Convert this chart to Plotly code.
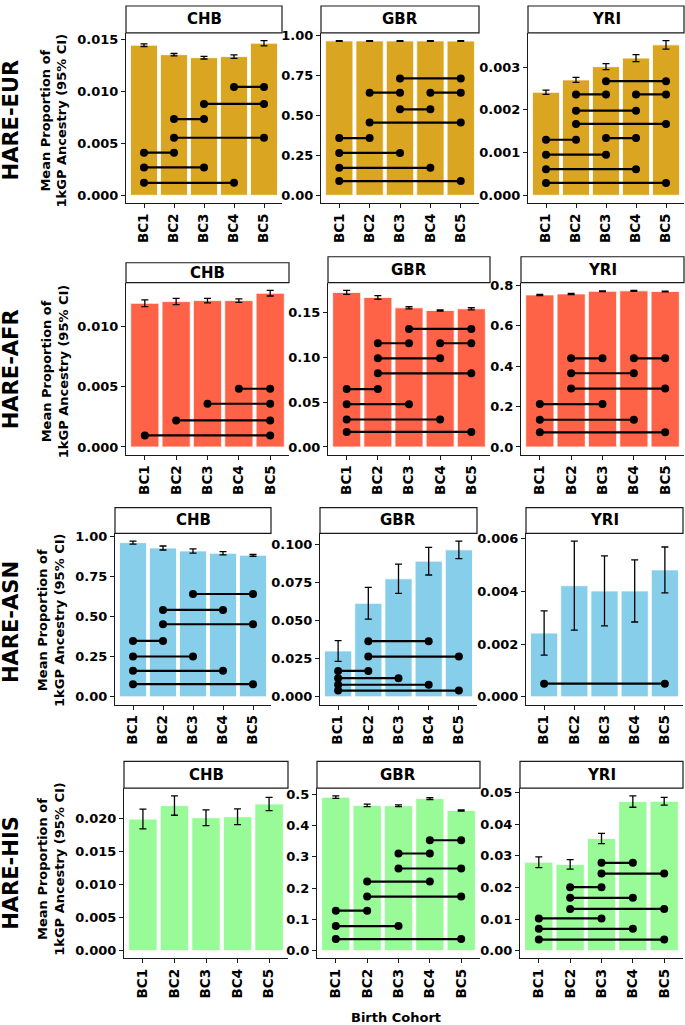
import plotly.graph_objects as go

# ---------------- data ----------------
cohorts = ["BC1", "BC2", "BC3", "BC4", "BC5"]
populations = ["CHB", "GBR", "YRI"]
groups = ["HARE-EUR", "HARE-AFR", "HARE-ASN", "HARE-HIS"]
group_colors = ["#DAA520", "#FF6347", "#87CEEB", "#98FB98"]

# HARE-EUR
eur_chb_mean = [0.01443, 0.01352, 0.01323, 0.01333, 0.01462]
eur_chb_ci = [0.00013, 0.00011, 0.00013, 0.00016, 0.00025]
eur_chb_sig = [("BC4", "BC5", 0.01042), ("BC3", "BC5", 0.00878), ("BC2", "BC3", 0.00733),
               ("BC2", "BC5", 0.00553), ("BC1", "BC2", 0.0041), ("BC1", "BC3", 0.00268),
               ("BC1", "BC4", 0.0012)]
eur_gbr_mean = [0.966, 0.966, 0.966, 0.966, 0.965]
eur_gbr_ci = [0.002, 0.002, 0.002, 0.002, 0.002]
eur_gbr_sig = [("BC3", "BC5", 0.731), ("BC2", "BC3", 0.642), ("BC4", "BC5", 0.642),
               ("BC3", "BC4", 0.538), ("BC2", "BC5", 0.455), ("BC1", "BC2", 0.358),
               ("BC1", "BC3", 0.265), ("BC1", "BC4", 0.172), ("BC1", "BC5", 0.089)]
eur_yri_mean = [0.00241, 0.0027, 0.00301, 0.00321, 0.00352]
eur_yri_ci = [0.00005, 0.00006, 0.00007, 0.00008, 0.0001]
eur_yri_sig = [("BC3", "BC5", 0.00267), ("BC2", "BC3", 0.00236), ("BC4", "BC5", 0.00236),
               ("BC2", "BC4", 0.00198), ("BC2", "BC5", 0.00167), ("BC3", "BC4", 0.00134),
               ("BC1", "BC2", 0.0013), ("BC1", "BC3", 0.00095), ("BC1", "BC4", 0.00061),
               ("BC1", "BC5", 0.00029)]

# HARE-AFR
afr_chb_mean = [0.0119, 0.01204, 0.01212, 0.01212, 0.01273]
afr_chb_ci = [0.00028, 0.00026, 0.00018, 0.00014, 0.00023]
afr_chb_sig = [("BC4", "BC5", 0.00482), ("BC3", "BC5", 0.00358), ("BC2", "BC5", 0.0022),
               ("BC1", "BC5", 0.00096)]
afr_gbr_mean = [0.1728, 0.1672, 0.1556, 0.1526, 0.1545]
afr_gbr_ci = [0.0022, 0.002, 0.0012, 0.0008, 0.0012]
afr_gbr_sig = [("BC3", "BC5", 0.132), ("BC2", "BC3", 0.116), ("BC4", "BC5", 0.116),
               ("BC2", "BC4", 0.0991), ("BC2", "BC5", 0.0823), ("BC1", "BC2", 0.0647),
               ("BC1", "BC3", 0.0479), ("BC1", "BC4", 0.0307), ("BC1", "BC5", 0.0168)]
afr_yri_mean = [0.752, 0.757, 0.770, 0.772, 0.769]
afr_yri_ci = [0.003, 0.003, 0.002, 0.002, 0.002]
afr_yri_sig = [("BC2", "BC3", 0.4386), ("BC4", "BC5", 0.4386), ("BC2", "BC4", 0.3647),
               ("BC2", "BC5", 0.289), ("BC1", "BC3", 0.212), ("BC1", "BC4", 0.1347),
               ("BC1", "BC5", 0.0723)]

# HARE-ASN
asn_chb_mean = [0.9626, 0.929, 0.9106, 0.896, 0.8836]
asn_chb_ci = [0.009, 0.0125, 0.0135, 0.01, 0.006]
asn_chb_sig = [("BC3", "BC5", 0.642), ("BC2", "BC4", 0.5426), ("BC2", "BC5", 0.453),
               ("BC1", "BC2", 0.349), ("BC1", "BC3", 0.2516), ("BC1", "BC4", 0.162),
               ("BC1", "BC5", 0.079)]
asn_gbr_mean = [0.0301, 0.0614, 0.0775, 0.0891, 0.0965]
asn_gbr_ci = [0.0068, 0.0104, 0.0096, 0.0091, 0.0057]
asn_gbr_sig = [("BC2", "BC4", 0.0365), ("BC2", "BC5", 0.0264), ("BC1", "BC2", 0.017),
               ("BC1", "BC3", 0.0122), ("BC1", "BC4", 0.0079), ("BC1", "BC5", 0.0041)]
asn_yri_mean = [0.00242, 0.00422, 0.00402, 0.00402, 0.00482]
asn_yri_ci = [0.00084, 0.00169, 0.00133, 0.00118, 0.00087]
asn_yri_sig = [("BC1", "BC5", 0.0005)]

# HARE-HIS
his_chb_mean = [0.01985, 0.02189, 0.02005, 0.0202, 0.02213]
his_chb_ci = [0.00149, 0.00146, 0.0012, 0.0012, 0.001]
his_chb_sig = []
his_gbr_mean = [0.4915, 0.465, 0.464, 0.487, 0.449]
his_gbr_ci = [0.004, 0.004, 0.003, 0.003, 0.002]
his_gbr_sig = [("BC4", "BC5", 0.3535), ("BC3", "BC4", 0.311), ("BC3", "BC5", 0.263),
               ("BC2", "BC4", 0.221), ("BC2", "BC5", 0.173), ("BC1", "BC2", 0.128),
               ("BC1", "BC3", 0.0786), ("BC1", "BC5", 0.037)]
his_yri_mean = [0.028, 0.0273, 0.0355, 0.0472, 0.0473]
his_yri_ci = [0.0017, 0.0015, 0.0016, 0.0018, 0.0012]
his_yri_sig = [("BC3", "BC4", 0.0278), ("BC3", "BC5", 0.0244), ("BC2", "BC3", 0.0201),
               ("BC2", "BC4", 0.0167), ("BC2", "BC5", 0.0132), ("BC1", "BC3", 0.0102),
               ("BC1", "BC4", 0.0069), ("BC1", "BC5", 0.0035)]

# y tick step and format per panel (row-major)
tick_steps = [0.005, 0.25, 0.001,
              0.005, 0.05, 0.2,
              0.25, 0.025, 0.002,
              0.005, 0.1, 0.01]
tick_formats = [".3f", ".2f", ".3f",
                ".3f", ".2f", ".1f",
                ".2f", ".3f", ".3f",
                ".3f", ".1f", ".2f"]

panels = [
    (eur_chb_mean, eur_chb_ci, eur_chb_sig), (eur_gbr_mean, eur_gbr_ci, eur_gbr_sig), (eur_yri_mean, eur_yri_ci, eur_yri_sig),
    (afr_chb_mean, afr_chb_ci, afr_chb_sig), (afr_gbr_mean, afr_gbr_ci, afr_gbr_sig), (afr_yri_mean, afr_yri_ci, afr_yri_sig),
    (asn_chb_mean, asn_chb_ci, asn_chb_sig), (asn_gbr_mean, asn_gbr_ci, asn_gbr_sig), (asn_yri_mean, asn_yri_ci, asn_yri_sig),
    (his_chb_mean, his_chb_ci, his_chb_sig), (his_gbr_mean, his_gbr_ci, his_gbr_sig), (his_yri_mean, his_yri_ci, his_yri_sig),
]

# ---------------- layout geometry (pixels) ----------------
W, H = 685, 1025
# per row: (plot top, plot bottom)
row_y = [(28, 199), (279, 452), (531, 703), (787, 958)]
# strip top per panel
strip_top = [[1, 1, 1], [259, 253, 253], [505, 505, 505], [760, 760, 760]]
row_x = [
    [(126, 282), (321, 479), (528, 684)],
    [(126, 289), (328, 490), (521, 684)],
    [(115, 271), (320, 477), (526, 683)],
    [(124, 288), (317, 480), (520, 683)],
]
row_label_y = [116, 366, 620, 872]
ytitle_y = [116, 368, 618, 868]
ytitle_x = [54, 55, 51, 51]

def fx(px):
    return px / W

def fy(py):
    return 1 - py / H

FONT = "DejaVu Sans"
AX_COLOR = "#1a1a1a"

fig = go.Figure()
shapes = []
annotations = []

for r in range(4):
    for c in range(3):
        i = r * 3 + c
        n = i + 1
        xa = "x" if n == 1 else f"x{n}"
        ya = "y" if n == 1 else f"y{n}"
        mean, ci, sig = panels[i]
        color = group_colors[r]

        fig.add_trace(go.Bar(
            x=cohorts, y=mean, width=0.9,
            marker=dict(color=color, line=dict(color="white", width=0.8)),
            error_y=dict(type="data", array=ci, visible=True, color="black",
                         thickness=1.3, width=3.5),
            xaxis=xa, yaxis=ya, hoverinfo="skip",
        ))
        for (a, b, yv) in sig:
            fig.add_trace(go.Scatter(
                x=[a, b], y=[yv, yv], mode="lines+markers",
                line=dict(color="black", width=2.2),
                marker=dict(color="black", size=8),
                xaxis=xa, yaxis=ya, hoverinfo="skip",
            ))

        M = max(m + e for m, e in zip(mean, ci))
        x0, x1 = row_x[r][c]
        yt, yb = row_y[r]
        xkey = "xaxis" if n == 1 else f"xaxis{n}"
        ykey = "yaxis" if n == 1 else f"yaxis{n}"
        fig.layout[xkey] = dict(
            domain=[fx(x0), fx(x1)], anchor=ya, type="category",
            categoryorder="array", categoryarray=cohorts,
            range=[-0.6, 4.6], tickangle=-90, ticks="outside", ticklen=4,
            tickwidth=1.1, tickcolor=AX_COLOR, showline=True, linecolor=AX_COLOR,
            linewidth=1.2, showgrid=False, zeroline=False,
            tickfont=dict(family=FONT, size=13.5, color="black", weight="bold"),
        )
        fig.layout[ykey] = dict(
            domain=[fy(yb), fy(yt)], anchor=xa,
            range=[-0.05 * M, 1.05 * M], tick0=0, dtick=tick_steps[i],
            tickformat=tick_formats[i], ticks="outside", ticklen=4,
            tickwidth=1.1, tickcolor=AX_COLOR, showline=True, linecolor=AX_COLOR,
            linewidth=1.2, showgrid=False, zeroline=False,
            tickfont=dict(family=FONT, size=13, color="black", weight="bold"),
        )
        # strip
        st = strip_top[r][c]
        shapes.append(dict(type="rect", xref="paper", yref="paper",
                           x0=fx(x0), x1=fx(x1), y0=fy(yt), y1=fy(st),
                           line=dict(color=AX_COLOR, width=1.2), fillcolor="white"))
        annotations.append(dict(xref="paper", yref="paper",
                                x=fx((x0 + x1) / 2), y=fy((yt + st) / 2),
                                text=populations[c], showarrow=False,
                                xanchor="center", yanchor="middle",
                                font=dict(family=FONT, size=15, color="black", weight="bold")))

    annotations.append(dict(xref="paper", yref="paper", x=fx(11), y=fy(row_label_y[r]),
                            text=groups[r], showarrow=False, textangle=-90,
                            xanchor="center", yanchor="middle",
                            font=dict(family=FONT, size=21, color="black", weight="bold")))
    annotations.append(dict(xref="paper", yref="paper", x=fx(ytitle_x[r]), y=fy(ytitle_y[r]),
                            text="Mean Proportion of<br>1kGP Ancestry (95% CI)", showarrow=False,
                            textangle=-90, xanchor="center", yanchor="middle",
                            font=dict(family=FONT, size=13, color="black", weight="bold")))

annotations.append(dict(xref="paper", yref="paper", x=fx(396), y=fy(1017),
                        text="Birth Cohort", showarrow=False,
                        xanchor="center", yanchor="middle",
                        font=dict(family=FONT, size=13, color="black", weight="bold")))

fig.update_layout(
    width=W, height=H, margin=dict(l=0, r=0, t=0, b=0),
    plot_bgcolor="white", paper_bgcolor="white", showlegend=False,
    bargap=0.1, shapes=shapes, annotations=annotations,
)

fig.write_html(
    "out.html",
    config={"displayModeBar": False},
    post_script="document.body.style.margin='0';document.body.style.padding='0';"
                "document.body.style.overflow='hidden';",
)
